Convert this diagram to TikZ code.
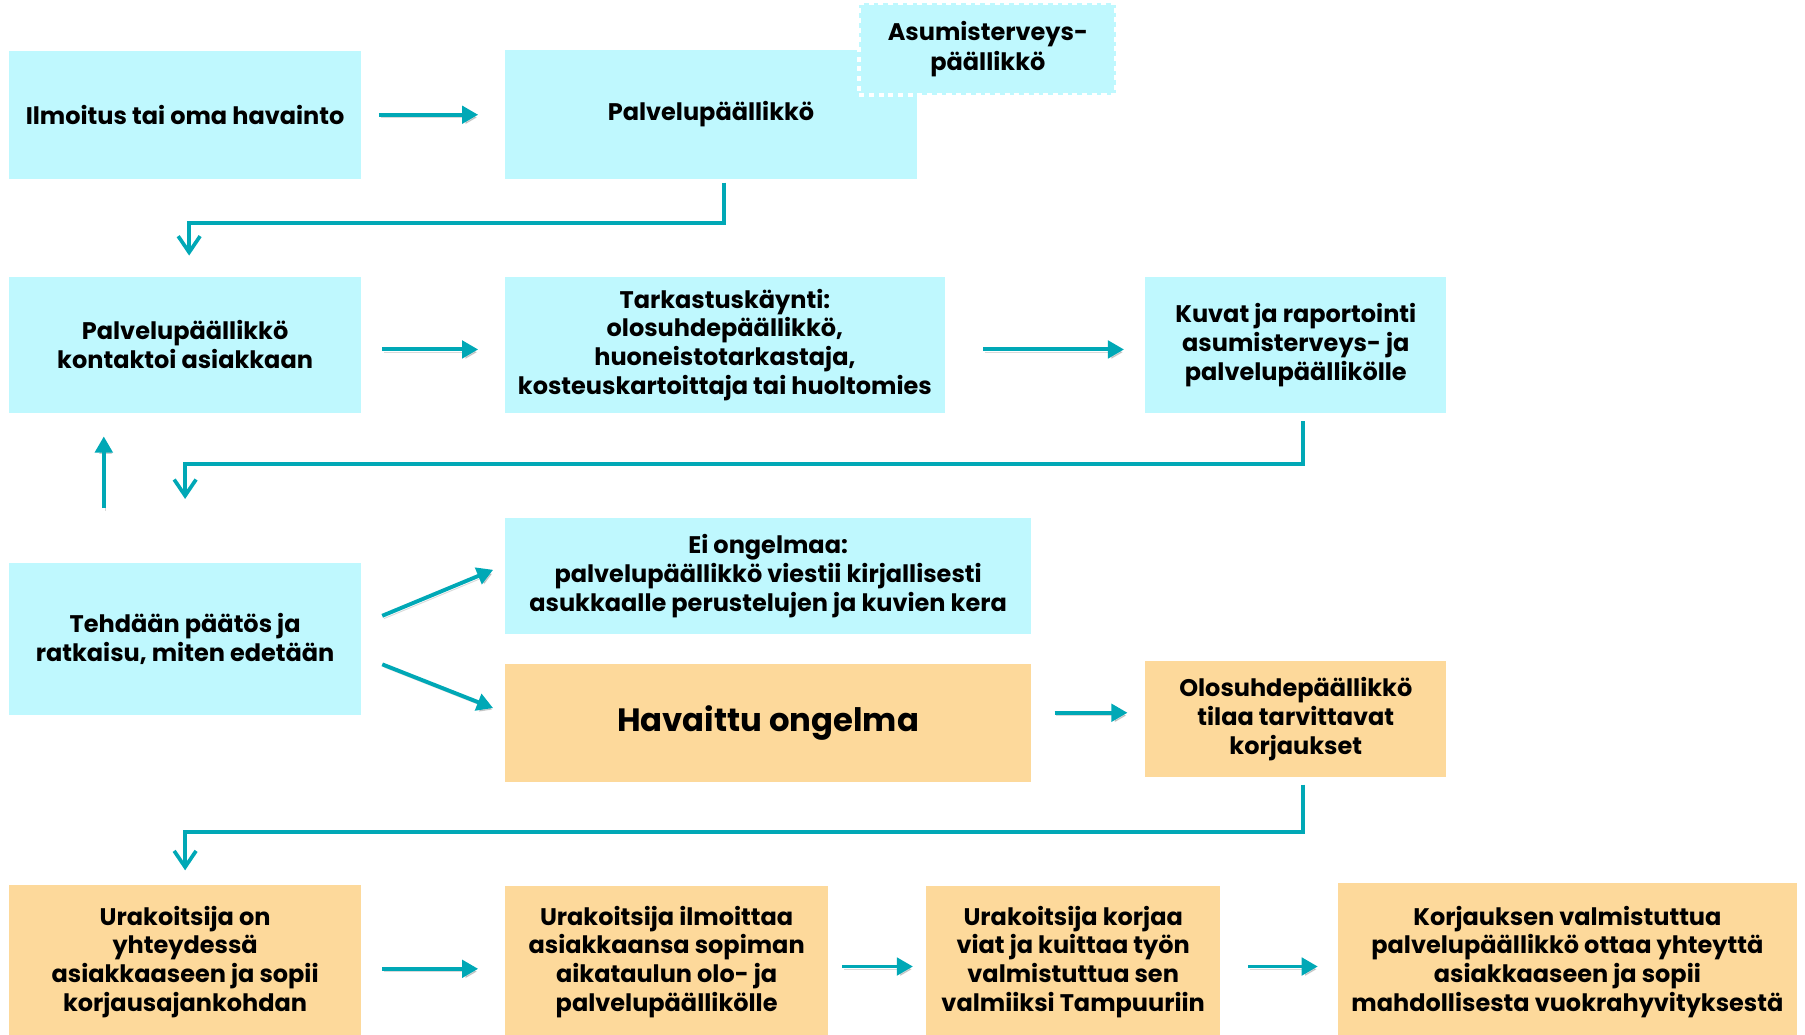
\documentclass[tikz,border=0pt]{standalone}
\usepackage{fontspec}
\setmainfont{Poppins}
\usetikzlibrary{arrows.meta}
\definecolor{cyanbox}{HTML}{BFF8FE}
\definecolor{orangebox}{HTML}{FDD99B}
\definecolor{arrowteal}{HTML}{00A8B6}
\begin{document}
\begin{tikzpicture}[x=0.5pt,y=-0.5pt,
  box/.style={rectangle, inner sep=0pt, align=center, text=black,
    font=\bfseries\fontsize{10.4}{12.5}\selectfont},
  cbox/.style={box, fill=cyanbox},
  obox/.style={box, fill=orangebox},
  arr/.style={draw=arrowteal, line width=1.7pt,
    -{Triangle[length=7pt,width=7.5pt]},
    preaction={draw=black, opacity=0.15, transform canvas={shift={(0.8pt,-1.2pt)}}}},
  elb/.style={draw=arrowteal, line width=1.6pt,
    -{Straight Barb[length=7pt,width=9.5pt,line width=1.6pt]}},
]
\useasboundingbox (0,0) rectangle (1565,897);

% row 1
\node[cbox, minimum width=152.5pt, minimum height=55.5pt] (A) at (160.5,99.5) {Ilmoitus tai oma havainto};
\node[cbox, minimum width=178.5pt, minimum height=56pt] (B) at (616.5,99) {Palvelupäällikkö};
\node[cbox, minimum width=111.5pt, minimum height=39.5pt, draw=white, line width=1.7pt,
  dash pattern=on 2.2pt off 2pt] (C) at (856.5,42.5) {\raisebox{-1pt}{\shortstack{Asumisterveys-\\[-1pt]päällikkö}}};

% row 2
\node[cbox, minimum width=152.5pt, minimum height=59pt] (D) at (160.5,299) {Palvelupäällikkö\\kontaktoi asiakkaan};
\node[cbox, minimum width=190.5pt, minimum height=59pt] (E) at (628.5,299) {Tarkastuskäynti:\\olosuhdepäällikkö,\\huoneistotarkastaja,\\kosteuskartoittaja tai huoltomies};
\node[cbox, minimum width=130.5pt, minimum height=59pt] (F) at (1123.5,299) {Kuvat ja raportointi\\asumisterveys- ja\\palvelupäällikölle};

% row 3
\node[cbox, minimum width=152.5pt, minimum height=66pt] (G) at (160.5,554) {Tehdään päätös ja\\ratkaisu, miten edetään};
\node[cbox, minimum width=228pt, minimum height=50.5pt] (H) at (666,499.5) {Ei ongelmaa:\\palvelupäällikkö viestii kirjallisesti\\asukkaalle perustelujen ja kuvien kera};
\node[obox, minimum width=228pt, minimum height=51pt, font=\bfseries\fontsize{14}{17}\selectfont] (I) at (666,627) {Havaittu ongelma};
\node[obox, minimum width=130.5pt, minimum height=50.5pt] (J) at (1123.5,623.5) {Olosuhdepäällikkö\\tilaa tarvittavat\\korjaukset};

% row 4
\node[obox, minimum width=152.5pt, minimum height=67pt] (K) at (160.5,834) {Urakoitsija on\\yhteydessä\\asiakkaaseen ja sopii\\korjausajankohdan};
\node[obox, minimum width=140pt, minimum height=66pt] (L) at (578,834) {Urakoitsija ilmoittaa\\asiakkaansa sopiman\\aikataulun olo- ja\\palvelupäällikölle};
\node[obox, minimum width=127.5pt, minimum height=66pt] (M) at (930.5,834) {Urakoitsija korjaa\\viat ja kuittaa työn\\valmistuttua sen\\valmiiksi Tampuuriin};
\node[obox, minimum width=199pt, minimum height=68pt] (N) at (1359,834) {Korjauksen valmistuttua\\palvelupäällikkö ottaa yhteyttä\\asiakkaaseen ja sopii\\mahdollisesta vuokrahyvityksestä};

% straight arrows
\draw[arr, shorten <=7.5pt, shorten >=11.5pt] (A.east) -- (A.east -| B.west);
\draw[arr, shorten <=9pt, shorten >=11.5pt] ([yshift=-2pt]D.east) -- ([yshift=-2pt]D.east -| E.west);
\draw[arr, shorten <=16.5pt, shorten >=9pt] ([yshift=-2pt]E.east) -- ([yshift=-2pt]E.east -| F.west);
\draw[arr, shorten <=23.5pt, shorten >=10pt] ([xshift=-35.25pt]G.north) -- ([xshift=-35.25pt]G.north |- D.south);
\draw[arr, shorten <=9.75pt, shorten >=5.4pt] ([yshift=6.3pt]G.east) -- ([yshift=4.8pt]H.west);
\draw[arr, shorten <=9.7pt, shorten >=5.4pt] ([yshift=-7.45pt]G.east) -- ([yshift=4.55pt]I.west);
\draw[arr, shorten <=10pt, shorten >=7.5pt] ([yshift=4.5pt]I.east) -- ([yshift=4.5pt]I.east -| J.west);
\draw[arr, shorten <=9pt, shorten >=11.5pt] ([yshift=-3pt]K.east) -- ([yshift=-3pt]K.east -| L.west);
\draw[arr, shorten <=6pt, shorten >=5.5pt] ([yshift=-2pt]L.east) -- ([yshift=-2pt]L.east -| M.west);
\draw[arr, shorten <=12pt, shorten >=8.5pt] ([yshift=-2pt]M.east) -- ([yshift=-2pt]M.east -| N.west);

% elbow connectors
\draw[elb, shorten <=1.5pt, shorten >=9pt] ([xshift=5.75pt]B.south) -- ++(0,38) -| ([xshift=1.75pt]D.north);
\draw[elb, shorten <=3.5pt, shorten >=27.5pt] ([xshift=3.25pt]F.south) -- ++(0,44) -| (G.north);
\draw[elb, shorten <=3pt, shorten >=6pt] ([xshift=3.25pt]J.south) -- ++(0,47) -| (K.north);
\end{tikzpicture}
\end{document}
